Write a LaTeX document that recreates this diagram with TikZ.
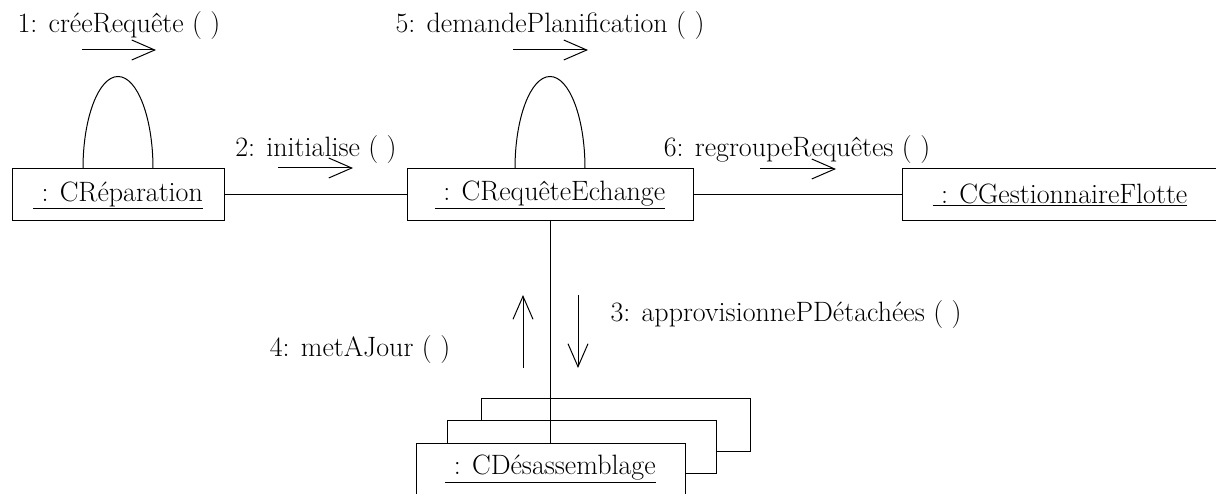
\documentclass[tikz,border=0pt]{standalone}
\usetikzlibrary{arrows.meta}

\begin{document}
\begin{tikzpicture}[x=1pt, y=1pt, line width=1pt,
  every node/.style={font=\fontsize{28}{34}\selectfont},
  obj/.style={draw, fill=white, minimum width=269pt, minimum height=52pt, inner sep=0pt},
  msg/.style={-{Straight Barb[length=23pt,width=20pt]}},
  lbl/.style={anchor=base, inner sep=0pt}]
\useasboundingbox (0,0) rectangle (1216,493);
\clip (0,0) rectangle (1216,493);
\node[obj, minimum width=212pt] (rep) at (118,298) {\underline{\ : CRéparation}};
\node[obj, minimum width=286pt] (req) at (550,298) {\underline{\ : CRequêteEchange}};
\node[obj, minimum width=316pt] (gest) at (1060,298) {\underline{\ : CGestionnaireFlotte}};
\node[obj] (des3) at (615.5,68) {};
\node[obj] (des2) at (582,46) {};
\node[obj] (des) at (550.5,24) {\underline{\ : CDésassemblage}};
\draw (rep.east) -- (req.west);
\draw (req.east) -- (gest.west);
\draw (req.south) -- (req.south |- des.north);
\draw ([xshift=-35pt]rep.north) arc[start angle=180, end angle=0, x radius=35, y radius=92];
\draw ([xshift=-35pt]req.north) arc[start angle=180, end angle=0, x radius=35, y radius=92];
\node[lbl] (m1) at (119,460) {1: créeRequête ( )};
\node[lbl] (m5) at (550,460) {5: demandePlanification ( )};
\node[lbl] (m2) at (316,336) {2: initialise ( )};
\node[lbl] (m6) at (797,336) {6: regroupeRequêtes ( )};
\node[lbl, anchor=base west] (m3) at (610,171) {3: approvisionnePDétachées ( )};
\node[lbl] (m4) at (360,136) {4: metAJour ( )};
\draw[msg] (82,443) -- (156,443);
\draw[msg] (513,443) -- (588,443);
\draw[msg] (278,325) -- (353,325);
\draw[msg] (760,324) -- (836,324);
\draw[msg] (523,125) -- (523,198);
\draw[msg] (578,198) -- (578,125);
\end{tikzpicture}
\end{document}
